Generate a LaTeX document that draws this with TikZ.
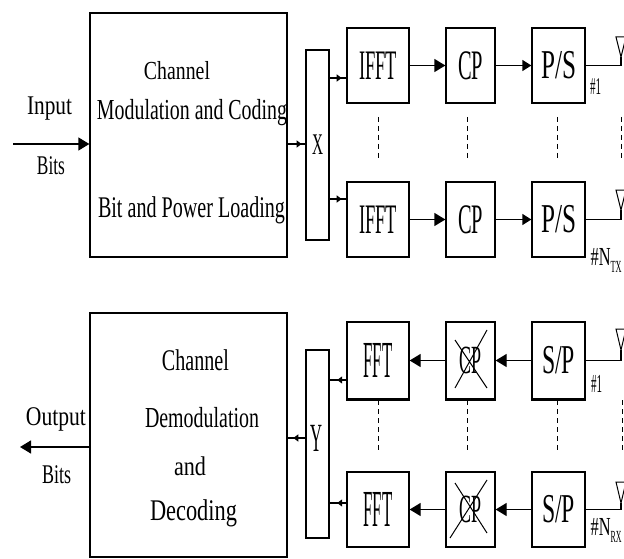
\documentclass[tikz,border=0pt]{standalone}
\usepackage{fontspec}
\setmainfont{Liberation Serif}
\usepackage{graphicx}
\usetikzlibrary{arrows.meta,decorations.markings}
\newcommand\sqz[3]{\resizebox{#2pt}{\height}{\fontsize{#1}{#1}\selectfont #3}}
\begin{document}
\begin{tikzpicture}[x=1pt,y=-1pt,line width=1.3pt,
  blk/.style={draw,inner sep=0pt},
  lbl/.style={inner sep=0pt,anchor=base},
  bigarr/.style={-{Triangle[length=11pt,width=13pt]}},
  medarr/.style={-{Triangle[length=9pt,width=11pt]}},
  midarr/.style={postaction={decorate},decoration={markings,mark=at position #1 with {\arrow{Triangle[length=5pt,width=7pt]}}}},
  dots/.style={line width=0.9pt,dash pattern=on 5pt off 4pt},
  ant/.style={line width=1pt}]
\clip (0,0) rectangle (624,559);
\useasboundingbox (0,0) rectangle (624,559);
% ---------- transmitter ----------
\node[blk,minimum width=197,minimum height=244] (tx) at (188.5,135) {};
\node[lbl] (t1) at (177,80) {\sqz{26}{66}{Channel}};
\node[lbl] (t2) at (192,120) {\sqz{29}{190}{Modulation and Coding}};
\node[lbl] (t3) at (191.5,217) {\sqz{30}{187}{Bit and Power Loading}};
\node[lbl] (inp) at (49.5,115) {\sqz{27}{45}{Input}};
\node[lbl] (inb) at (51,175) {\sqz{27}{28}{Bits}};
\node[blk,minimum width=23,minimum height=190] (X) at (317.5,145) {\sqz{30}{11}{X}};
\node[blk,minimum width=62,minimum height=75] (ifft1) at (378,65.5) {\sqz{42}{38}{IFFT}};
\node[blk,minimum width=49,minimum height=75] (cp1) at (470.5,65.5) {\sqz{42}{25}{CP}};
\node[blk,minimum width=53,minimum height=75] (ps1) at (558.5,65.5) {\sqz{41}{35}{P/S}};
\node[blk,minimum width=62,minimum height=75] (ifft2) at (378,219.5) {\sqz{42}{38}{IFFT}};
\node[blk,minimum width=49,minimum height=75] (cp2) at (470.5,219.5) {\sqz{42}{25}{CP}};
\node[blk,minimum width=53,minimum height=75] (ps2) at (558.5,219.5) {\sqz{41}{35}{P/S}};
\node[lbl] (n1) at (595.5,95) {\sqz{24}{11}{\#1}};
\node[lbl,anchor=base west] (ntx) at (590,265) {\sqz{26}{20}{\#N}\raisebox{-7pt}{\sqz{17}{11}{TX}}};
\coordinate (yin) at (0,144);
\coordinate (inL) at (13,144);
\coordinate (ya) at (0,78);
\coordinate (yb) at (0,199);
\draw[bigarr] (inL) -- (tx.west |- yin);
\draw[midarr=0.79] (tx.east |- yin) -- (X.west |- yin);
\draw[midarr=0.72] (X.east |- ya) -- (ifft1.west |- ya);
\draw[midarr=0.72] (X.east |- yb) -- (ifft2.west |- yb);
\draw[bigarr] (ifft1) -- (cp1);
\draw[medarr] (cp1) -- (ps1);
\draw[bigarr] (ifft2) -- (cp2);
\draw[medarr] (cp2) -- (ps2);
\coordinate (a1) at (621,57);
\coordinate (a2) at (621,210);
\draw (ps1.east) -| (a1);
\draw (ps2.east) -| (a2);
\draw[ant] (616,37) -- (626,37) -- (a1) -- cycle;
\draw[ant] (616,190) -- (626,190) -- (a2) -- cycle;
\foreach \xx in {378,467,557,621} \draw[dots] (\xx,117) -- (\xx,158);
% ---------- receiver ----------
\node[blk,minimum width=197,minimum height=244] (rx) at (188.5,435) {};
\node[lbl] (r1) at (195.5,370) {\sqz{30}{67}{Channel}};
\node[lbl] (r2) at (202,427) {\sqz{29}{114}{Demodulation}};
\node[lbl] (r3) at (190,475) {\sqz{27}{32}{and}};
\node[lbl] (r4) at (193.5,520) {\sqz{30}{87}{Decoding}};
\node[lbl] (outp) at (56,425) {\sqz{27}{60}{Output}};
\node[lbl] (outb) at (56.5,483) {\sqz{27}{29}{Bits}};
\node[blk,minimum width=23,minimum height=188] (Y) at (317.5,444) {};
\node[inner sep=0pt] (Yt) at (316,438) {\sqz{40}{12}{Y}};
\node[blk,minimum width=62,minimum height=77] (fft1) at (378,360.5) {\sqz{52}{29}{FFT}};
\node[blk,minimum width=49,minimum height=77] (cpx1) at (470.5,360.5) {\sqz{40}{22}{CP}};
\node[blk,minimum width=53,minimum height=77] (sp1) at (558.5,360.5) {\sqz{41}{33}{S/P}};
\node[blk,minimum width=62,minimum height=75] (fft2) at (378,509.5) {\sqz{52}{29}{FFT}};
\node[blk,minimum width=49,minimum height=75] (cpx2) at (470.5,509.5) {\sqz{40}{22}{CP}};
\node[blk,minimum width=53,minimum height=75] (sp2) at (558.5,509.5) {\sqz{41}{33}{S/P}};
\foreach \n in {fft1,cpx1,sp1} \draw[line width=2.8pt] (\n.south west) -- (\n.south east);
\draw[line width=1pt] (455,340) -- (487,388) (487,330) -- (455,388);
\draw[line width=1pt] (455,483) -- (487,533) (487,480) -- (450,538);
\node[lbl] (m1) at (596.5,392) {\sqz{26}{11}{\#1}};
\node[lbl,anchor=base west] (nrx) at (590,535) {\sqz{26}{20}{\#N}\raisebox{-7pt}{\sqz{17}{11}{RX}}};
\coordinate (yout) at (0,438);
\coordinate (yo2) at (0,447);
\coordinate (outL) at (20,447);
\coordinate (yc) at (0,380);
\coordinate (yd) at (0,503);
\draw[bigarr] (rx.west |- yo2) -- (outL);
\draw[midarr=0.68] (Y.west |- yout) -- (rx.east |- yout);
\draw[midarr=0.55] (fft1.west |- yc) -- (Y.east |- yc);
\draw[midarr=0.55] (fft2.west |- yd) -- (Y.east |- yd);
\draw[bigarr] (sp1) -- (cpx1);
\draw[bigarr] (cpx1) -- (fft1);
\draw[bigarr] (sp2) -- (cpx2);
\draw[bigarr] (cpx2) -- (fft2);
\coordinate (a3) at (621,350);
\coordinate (a4) at (621,503);
\draw (sp1.east) -| (a3);
\draw (sp2.east) -| (a4);
\draw[ant] (616,329) -- (626,329) -- (a3) -- cycle;
\draw[ant] (616,482) -- (626,482) -- (a4) -- cycle;
\foreach \xx in {378,467,557,622} \draw[dots] (\xx,400) -- (\xx,453);
\end{tikzpicture}
\end{document}
